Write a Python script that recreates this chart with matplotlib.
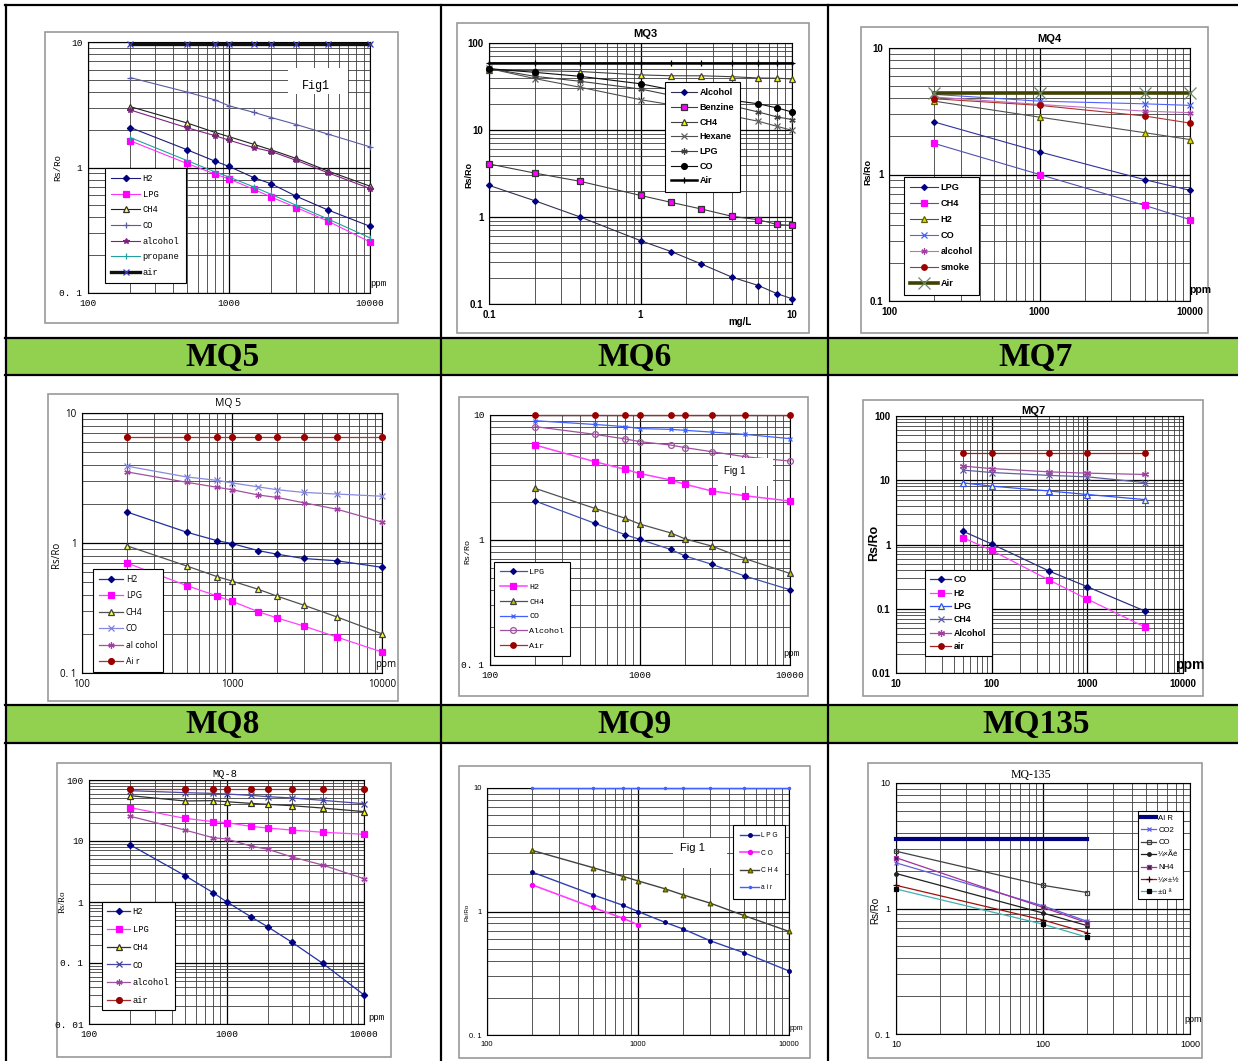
import numpy as np
import matplotlib.pyplot as plt
from matplotlib.lines import Line2D
from matplotlib.patches import Rectangle
from matplotlib.ticker import LogLocator, NullFormatter

W, H = 1238, 1061

# ---- data ----
sensor_names = ['MQ5', 'MQ6', 'MQ7', 'MQ8', 'MQ9', 'MQ135']

mq5_ppm = [200, 500, 800, 1000, 1500, 2000, 3000, 5000, 10000]
mq5_h2 = [2.08, 1.39, 1.12, 1.02, 0.83, 0.74, 0.59, 0.46, 0.34]
mq5_lpg = [1.63, 1.08, 0.885, 0.81, 0.67, 0.58, 0.48, 0.375, 0.255]
mq5_ch4 = [3.05, 2.27, 1.9, 1.76, 1.53, 1.38, 1.18, 0.94, 0.71]
mq5_co = [5.2, 4.0, 3.45, 3.1, 2.75, 2.5, 2.2, 1.85, 1.46]
mq5_alcohol = [2.87, 2.08, 1.79, 1.65, 1.44, 1.34, 1.14, 0.91, 0.68]
mq5_propane = [1.73, 1.14, 0.92, 0.84, 0.70, 0.61, 0.50, 0.39, 0.275]
mq5_air = [9.6, 9.6, 9.6, 9.6, 9.6, 9.6, 9.6, 9.6, 9.6]

mq3_mgl = [0.1, 0.2, 0.4, 1, 1.6, 2.5, 4, 6, 8, 10]
mq3_alcohol = [2.31, 1.54, 1.0, 0.535, 0.40, 0.29, 0.204, 0.163, 0.131, 0.115]
mq3_benzine = [4.07, 3.2, 2.57, 1.77, 1.47, 1.24, 1.02, 0.93, 0.82, 0.8]
mq3_ch4 = [48.5, 48, 47, 43, 42, 42, 41, 39.6, 39.4, 38.6]
mq3_hexane = [51, 39, 31, 22.3, 19.5, 17, 14.5, 12.6, 11, 9.9]
mq3_lpg = [51, 41.4, 36.3, 29.6, 25, 22, 19, 16.1, 14.1, 13.2]
mq3_co = [50.7, 46, 41.4, 34, 29, 26, 22, 20, 17.9, 16.1]
mq3_air = [59, 59, 59, 59, 59, 59, 59, 59, 59, 59]

mq4_ppm = [200, 1000, 5000, 10000]
mq4_lpg = [2.6, 1.51, 0.91, 0.75]
mq4_ch4 = [1.76, 1.0, 0.57, 0.44]
mq4_h2 = [3.8, 2.84, 2.14, 1.89]
mq4_co = [4.3, 3.8, 3.62, 3.52]
mq4_alcohol = [4.1, 3.58, 3.17, 3.08]
mq4_smoke = [3.97, 3.52, 2.9, 2.55]
mq4_air = [4.43, 4.43, 4.43, 4.43]

mq5b_ppm = [200, 500, 800, 1000, 1500, 2000, 3000, 5000, 10000]
mq5b_h2 = [1.73, 1.21, 1.04, 0.99, 0.873, 0.82, 0.76, 0.73, 0.65]
mq5b_lpg = [0.70, 0.47, 0.39, 0.356, 0.296, 0.265, 0.23, 0.189, 0.145]
mq5b_ch4 = [0.95, 0.665, 0.55, 0.51, 0.44, 0.39, 0.333, 0.27, 0.2]
mq5b_co = [3.9, 3.22, 3.03, 2.9, 2.7, 2.57, 2.45, 2.38, 2.29]
mq5b_alcohol = [3.52, 2.93, 2.68, 2.57, 2.34, 2.24, 2.04, 1.82, 1.45]
mq5b_air = [6.5, 6.5, 6.5, 6.5, 6.5, 6.5, 6.5, 6.5, 6.5]

mq9_ppm = [200, 500, 800, 1000, 1600, 2000, 3000, 5000, 10000]
mq9_lpg = [2.05, 1.36, 1.10, 1.01, 0.84, 0.745, 0.64, 0.515, 0.40]
mq9_h2 = [5.75, 4.23, 3.67, 3.4, 3.02, 2.79, 2.47, 2.26, 2.05]
mq9_ch4 = [2.59, 1.79, 1.49, 1.34, 1.14, 1.02, 0.895, 0.71, 0.54]
mq9_co = [9.0, 8.4, 8.07, 7.78, 7.68, 7.54, 7.3, 7.0, 6.47]
mq9_alcohol = [8.07, 7.0, 6.43, 6.12, 5.75, 5.48, 5.09, 4.64, 4.28]
mq9_air = [10, 10, 10, 10, 10, 10, 10, 10, 10]

mq7_ppm = [50, 100, 400, 1000, 4000]
mq7_co = [1.61, 1.02, 0.385, 0.22, 0.092]
mq7_h2 = [1.28, 0.81, 0.279, 0.141, 0.052]
mq7_lpg = [9.1, 8.1, 6.8, 6.0, 5.0]
mq7_ch4 = [14.4, 13.2, 11.9, 11.3, 9.2]
mq7_alcohol = [16.6, 15.2, 13.5, 12.9, 12.3]
mq7_air = [26.4, 26.4, 26.4, 26.4, 26.4]

mq8_ppm = [200, 500, 800, 1000, 1500, 2000, 3000, 5000, 10000]
mq8_h2 = [8.6, 2.7, 1.42, 1.01, 0.575, 0.39, 0.218, 0.099, 0.030]
mq8_lpg = [35.2, 23.5, 20.8, 20, 17.4, 16.3, 15.1, 13.9, 12.9]
mq8_ch4 = [55.3, 45.3, 45.9, 44.1, 41.4, 39.9, 37.9, 34.7, 30.3]
mq8_co = [66.8, 62, 60.4, 58.9, 56, 53.3, 50.7, 46.4, 40.9]
mq8_alcohol = [25.4, 15.1, 11.3, 10.8, 8.28, 7.3, 5.47, 4.04, 2.41]
mq8_air = [71, 71, 71, 71, 71, 71, 71, 71, 71]

mq9b_ppm = [200, 500, 800, 1000, 1500, 2000, 3000, 5000, 10000]
mq9b_lpg = [2.08, 1.37, 1.12, 1.0, 0.82, 0.72, 0.58, 0.465, 0.33]
mq9b_co_ppm = [200, 500, 800, 1000]
mq9b_co = [1.64, 1.08, 0.88, 0.78]
mq9b_ch4 = [3.12, 2.27, 1.92, 1.77, 1.53, 1.36, 1.17, 0.93, 0.69]
mq9b_air = [10, 10, 10, 10, 10, 10, 10, 10, 10]

mq135_ppm = [10, 100, 200]
mq135_air = [3.6, 3.6, 3.6]
mq135_co2 = [2.31, 1.05, 0.79]
mq135_co = [2.86, 1.53, 1.34]
mq135_s3 = [1.9, 0.92, 0.73]
mq135_nh4 = [2.54, 1.02, 0.77]
mq135_s5 = [1.53, 0.81, 0.64]
mq135_s6 = [1.43, 0.75, 0.59]

ppm_ticks = [100, 1000, 10000]
ppm_labels = ['100', '1000', '10000']
r2_ticks = [0.1, 1, 10]


def px_rect(x0, y0, x1, y1):
    return [x0 / W, 1 - y1 / H, (x1 - x0) / W, (y1 - y0) / H]


def fx(x):
    return x / W


def fy(y):
    return 1 - y / H


fig = plt.figure(figsize=(W / 100, H / 100), dpi=100)
fig.patch.set_facecolor('white')


def add_text(x, y, s, **kw):
    fig.text(fx(x), fy(y), s, **kw)


def white_box(x0, y0, x1, y1):
    fig.add_artist(Rectangle((fx(x0), fy(y1)), (x1 - x0) / W, (y1 - y0) / H,
                             transform=fig.transFigure, facecolor='white',
                             edgecolor='none', zorder=5))


def panel(frame, box, xlim, ylim, xt, xl, yt, yl, series, leg_at, spacing,
          font, tsize=7, weight='normal', lsize=6.0, hl=2.3, bpad=0.6):
    # grey frame of the pasted chart picture
    fig.add_artist(Rectangle((fx(frame[0]), fy(frame[3])),
                             (frame[2] - frame[0]) / W, (frame[3] - frame[1]) / H,
                             transform=fig.transFigure, facecolor='white',
                             edgecolor='#9a9a9a', lw=1.2, zorder=-1))
    ax = fig.add_axes(px_rect(*box))
    ax.set_xscale('log')
    ax.set_yscale('log')
    ax.set_xlim(*xlim)
    ax.set_ylim(*ylim)
    ax.set_xticks(xt, labels=xl)
    ax.set_yticks(yt, labels=yl)
    for a in (ax.xaxis, ax.yaxis):
        a.set_minor_locator(LogLocator(base=10, subs=np.arange(2, 10), numticks=30))
        a.set_minor_formatter(NullFormatter())
    ax.grid(which='major', color='black', lw=0.9)
    ax.grid(which='minor', color='#3c3c3c', lw=0.6)
    ax.set_axisbelow(True)
    ax.tick_params(which='both', length=0, labelsize=tsize, pad=4)
    for lab in ax.get_xticklabels() + ax.get_yticklabels():
        lab.set_family(font)
        lab.set_weight(weight)
    for s in ax.spines.values():
        s.set_color('black')
        s.set_linewidth(0.8)
    handles = []
    for xs, ys, name, col, lw, mk, ms, mfc, mec in series:
        ln, = ax.plot(xs, ys, color=col, lw=lw, marker=mk, ms=ms, label=name,
                      mfc=mfc, mec=mec, mew=0.9, clip_on=False, zorder=3)
        handles.append(ln)
    leg = ax.legend(handles=handles, loc='upper left',
                    bbox_to_anchor=(fx(leg_at[0]), fy(leg_at[1])),
                    bbox_transform=fig.transFigure, frameon=True, fancybox=False,
                    edgecolor='black', framealpha=1, borderaxespad=0,
                    labelspacing=spacing, handlelength=hl, handletextpad=0.3,
                    borderpad=bpad,
                    prop={'family': font, 'size': lsize, 'weight': weight})
    leg.get_frame().set_linewidth(0.8)
    leg.set_zorder(6)
    return ax


# ---- MQ5 (Fig1) ----
panel((45, 32, 398, 323), (88, 42, 370, 293), (100, 10000), (0.1, 10),
      ppm_ticks, ppm_labels, r2_ticks, ['0. 1', '1', '10'],
      [(mq5_ppm, mq5_h2, 'H2', '#1a1a7a', 0.8, 'D', 3.2, '#000080', '#000080'),
       (mq5_ppm, mq5_lpg, 'LPG', '#ff33ff', 0.8, 's', 4.0, '#ff00ff', '#ff00ff'),
       (mq5_ppm, mq5_ch4, 'CH4', '#202020', 0.8, '^', 4.0, '#ffff80', '#303030'),
       (mq5_ppm, mq5_co, 'CO', '#5a5aa0', 0.8, '+', 4.0, '#5a5aa0', '#5a5aa0'),
       (mq5_ppm, mq5_alcohol, 'alcohol', '#802080', 0.8, '*', 4.0, '#802080', '#802080'),
       (mq5_ppm, mq5_propane, 'propane', '#20a0a0', 0.8, '|', 4.0, '#20a0a0', '#20a0a0'),
       (mq5_ppm, mq5_air, 'air', '#101010', 2.4, 'x', 5.0, '#3a3ac0', '#3a3ac0')],
      (105, 168), 0.76, 'Liberation Mono', tsize=6.8, lsize=6.3, hl=3.3, bpad=0.7)
add_text(58, 168, 'Rs/Ro', family='Liberation Mono', size=6.5, rotation=90,
         ha='center', va='center')
add_text(370, 283, 'ppm', family='Liberation Mono', size=6.5, ha='left', va='center')
white_box(288, 68, 348, 94)
add_text(316, 86, 'Fig1', family='Liberation Mono', size=8.5, ha='center',
         va='center', zorder=7)

# ---- MQ6 (MQ3 chart) ----
panel((457, 23, 809, 333), (489, 43, 792, 304), (0.1, 10), (0.1, 100),
      [0.1, 1, 10], ['0.1', '1', '10'], [0.1, 1, 10, 100], ['0.1', '1', '10', '100'],
      [(mq3_mgl, mq3_alcohol, 'Alcohol', '#303050', 0.8, 'D', 3.0, '#000080', '#000080'),
       (mq3_mgl, mq3_benzine, 'Benzine', '#404040', 0.8, 's', 4.2, '#ff00ff', '#303030'),
       (mq3_mgl, mq3_ch4, 'CH4', '#404040', 0.8, '^', 4.2, '#ffff00', '#404040'),
       (mq3_mgl, mq3_hexane, 'Hexane', '#505050', 0.8, 'x', 3.8, '#505050', '#606060'),
       (mq3_mgl, mq3_lpg, 'LPG', '#404040', 0.8, (6, 2, 0), 4.5, '#404040', '#404040'),
       (mq3_mgl, mq3_co, 'CO', '#101010', 0.8, 'o', 4.2, '#000000', '#000000'),
       (mq3_mgl, mq3_air, 'Air', '#000000', 1.8, '+', 4.0, '#000000', '#000000')],
      (665, 82), 0.63, 'Liberation Sans', tsize=7, weight='bold', lsize=6.5,
      hl=2.8, bpad=0.7)
add_text(645, 34, 'MQ3', family='Liberation Sans', weight='bold', size=8,
         ha='center', va='center')
add_text(469, 175, 'Rs/Ro', family='Liberation Sans', weight='bold', size=6.5,
         rotation=90, ha='center', va='center')
add_text(740, 322, 'mg/L', family='Liberation Sans', weight='bold', size=7,
         ha='center', va='center')

# ---- MQ7 (MQ4 chart) ----
panel((861, 27, 1208, 333), (889, 48, 1190, 301), (100, 10000), (0.1, 10),
      ppm_ticks, ppm_labels, r2_ticks, ['0.1', '1', '10'],
      [(mq4_ppm, mq4_lpg, 'LPG', '#3030a0', 0.8, 'D', 3.0, '#000080', '#000080'),
       (mq4_ppm, mq4_ch4, 'CH4', '#5050b0', 0.8, 's', 4.0, '#ff00ff', '#ff00ff'),
       (mq4_ppm, mq4_h2, 'H2', '#505050', 0.8, '^', 3.8, '#e0e000', '#606000'),
       (mq4_ppm, mq4_co, 'CO', '#5060ff', 0.8, 'x', 4.0, '#4060ff', '#4060ff'),
       (mq4_ppm, mq4_alcohol, 'alcohol', '#c070c0', 0.8, (6, 2, 0), 4.5, '#a040a0', '#a040a0'),
       (mq4_ppm, mq4_smoke, 'smoke', '#b03030', 0.8, 'o', 4.0, '#a00000', '#a00000'),
       (mq4_ppm, mq4_air, 'Air', '#404000', 2.6, 'x', 8.0, '#6a8a6a', '#6a8a6a')],
      (904, 177), 0.76, 'Liberation Sans', tsize=7, weight='bold', lsize=6.6,
      hl=3.0, bpad=0.7)
add_text(1049, 39, 'MQ4', family='Liberation Sans', weight='bold', size=8,
         ha='center', va='center')
add_text(868, 172, 'Rs/Ro', family='Liberation Sans', weight='bold', size=6.5,
         rotation=90, ha='center', va='center')
add_text(1189, 290, 'ppm', family='Liberation Sans', weight='bold', size=7.5,
         ha='left', va='center')

# ---- MQ8 (MQ 5 chart) ----
panel((48, 394, 398, 701), (82, 413, 382, 673), (100, 10000), (0.1, 10),
      ppm_ticks, ppm_labels, r2_ticks, ['0. 1', '1', '10'],
      [(mq5b_ppm, mq5b_h2, 'H2', '#2030a0', 0.9, 'D', 3.2, '#000080', '#000080'),
       (mq5b_ppm, mq5b_lpg, 'LPG', '#ff40ff', 0.9, 's', 4.2, '#ff00ff', '#ff00ff'),
       (mq5b_ppm, mq5b_ch4, 'CH4', '#505050', 0.9, '^', 4.2, '#ffff40', '#404040'),
       (mq5b_ppm, mq5b_co, 'CO', '#8888e0', 0.9, 'x', 3.8, '#8080e0', '#8080e0'),
       (mq5b_ppm, mq5b_alcohol, 'al cohol', '#a050a0', 0.9, (6, 2, 0), 4.5, '#a040a0', '#a040a0'),
       (mq5b_ppm, mq5b_air, 'Ai r', '#b03030', 0.9, 'o', 4.2, '#990000', '#990000')],
      (93, 569), 0.86, 'Open Sans', tsize=7, lsize=6.2, hl=2.8, bpad=0.7)
add_text(228, 404, 'MQ 5', family='Open Sans', size=7.5, ha='center', va='center')
add_text(57, 555, 'Rs/Ro', family='Open Sans', size=7, rotation=90,
         ha='center', va='center')
add_text(375, 665, 'ppm', family='Open Sans', size=7, ha='left', va='center')

# ---- MQ9 ----
panel((459, 397, 808, 696), (490, 415, 790, 665), (100, 10000), (0.1, 10),
      ppm_ticks, ppm_labels, r2_ticks, ['0. 1', '1', '10'],
      [(mq9_ppm, mq9_lpg, 'LPG', '#4050b0', 0.9, 'D', 3.0, '#000080', '#000080'),
       (mq9_ppm, mq9_h2, 'H2', '#ff40ff', 1.1, 's', 4.0, '#ff00ff', '#ff00ff'),
       (mq9_ppm, mq9_ch4, 'CH4', '#505050', 0.9, '^', 3.8, '#c0c000', '#404040'),
       (mq9_ppm, mq9_co, 'CO', '#4060ff', 0.9, 'x', 2.8, '#4060ff', '#4060ff'),
       (mq9_ppm, mq9_alcohol, 'Alcohol', '#a050a0', 0.9, 'o', 4.2, 'none', '#a050a0'),
       (mq9_ppm, mq9_air, 'Air', '#a03030', 0.9, 'o', 4.0, '#990000', '#990000')],
      (494, 562), 0.85, 'Liberation Mono', tsize=6.8, lsize=6.0, hl=3.2, bpad=0.7)
white_box(718, 458, 773, 486)
add_text(735, 471, 'Fig 1', family='Liberation Sans', size=7, ha='center',
         va='center', zorder=7)
add_text(468, 552, 'Rs/Ro', family='Liberation Mono', size=6, rotation=90,
         ha='center', va='center')
add_text(783, 653, 'ppm', family='Liberation Mono', size=6.5, ha='left', va='center')

# ---- MQ135 (MQ7 chart) ----
panel((863, 400, 1203, 696), (896, 416, 1183, 673), (10, 10000), (0.01, 100),
      [10, 100, 1000, 10000], ['10', '100', '1000', '10000'],
      [0.01, 0.1, 1, 10, 100], ['0.01', '0.1', '1', '10', '100'],
      [(mq7_ppm, mq7_co, 'CO', '#303080', 0.9, 'D', 3.2, '#000080', '#000080'),
       (mq7_ppm, mq7_h2, 'H2', '#ff40ff', 0.9, 's', 4.2, '#ff00ff', '#ff00ff'),
       (mq7_ppm, mq7_lpg, 'LPG', '#3050ff', 0.9, '^', 4.0, '#ffffa0', '#3050ff'),
       (mq7_ppm, mq7_ch4, 'CH4', '#6060a0', 0.9, 'x', 4.0, '#6060a0', '#6060a0'),
       (mq7_ppm, mq7_alcohol, 'Alcohol', '#a050a0', 0.9, (6, 2, 0), 5.0, '#a040a0', '#a040a0'),
       (mq7_ppm, mq7_air, 'air', '#a02020', 0.9, 'o', 4.0, '#990000', '#990000')],
      (925, 570), 0.5, 'Liberation Sans', tsize=7, weight='bold', lsize=6.3, hl=2.4)
add_text(1033, 411, 'MQ7', family='Liberation Sans', weight='bold', size=8,
         ha='center', va='center')
add_text(874, 543, 'Rs/Ro', family='Liberation Sans', weight='bold', size=9,
         rotation=90, ha='center', va='center')
add_text(1175, 665, 'ppm', family='Liberation Sans', weight='bold', size=10,
         ha='left', va='center')

# ---- MQ-8 ----
panel((57, 763, 391, 1057), (89, 780, 364, 1024), (100, 10000), (0.01, 100),
      ppm_ticks, ppm_labels, [0.01, 0.1, 1, 10, 100], ['0. 01', '0. 1', '1', '10', '100'],
      [(mq8_ppm, mq8_h2, 'H2', '#2030a0', 0.9, 'D', 3.2, '#000080', '#000080'),
       (mq8_ppm, mq8_lpg, 'LPG', '#ff40ff', 0.9, 's', 4.2, '#ff00ff', '#ff00ff'),
       (mq8_ppm, mq8_ch4, 'CH4', '#303030', 0.9, '^', 4.0, '#ffff00', '#303030'),
       (mq8_ppm, mq8_co, 'CO', '#4848a8', 0.9, 'x', 3.8, '#4040a0', '#4040a0'),
       (mq8_ppm, mq8_alcohol, 'alcohol', '#a050a0', 0.9, (6, 2, 0), 4.5, '#a040a0', '#a040a0'),
       (mq8_ppm, mq8_air, 'air', '#a03030', 0.9, 'o', 4.2, '#990000', '#990000')],
      (102, 902), 1.0, 'Liberation Mono', tsize=6.8, lsize=6.3, hl=2.6)
add_text(225, 774, 'MQ-8', family='Liberation Mono', size=7.5, ha='center', va='center')
add_text(63, 902, 'Rs/Ro', family='Liberation Serif', size=6.5, rotation=90,
         ha='center', va='center')
add_text(368, 1018, 'ppm', family='Liberation Mono', size=6.5, ha='left', va='center')

# ---- lower middle chart ----
panel((459, 766, 810, 1058), (487, 788, 789, 1035), (100, 10000), (0.1, 10),
      ppm_ticks, ppm_labels, r2_ticks, ['0. 1', '1', '10'],
      [(mq9b_ppm, mq9b_lpg, 'L P G', '#3040b0', 1.0, 'o', 2.6, '#000080', '#000080'),
       (mq9b_co_ppm, mq9b_co, 'C O', '#ff40ff', 1.2, 'o', 3.0, '#ff00ff', '#ff00ff'),
       (mq9b_ppm, mq9b_ch4, 'C H 4', '#404040', 1.0, '^', 3.4, '#a0a000', '#505000'),
       (mq9b_ppm, mq9b_air, 'a i r', '#4060ff', 1.0, 'o', 1.6, '#4060ff', '#4060ff')],
      (733, 825), 1.55, 'Liberation Sans', tsize=5.5, lsize=4.8, hl=2.8, bpad=1.1)
white_box(673, 838, 727, 868)
add_text(692, 848, 'Fig 1', family='Liberation Sans', size=8, ha='center',
         va='center', zorder=7)
add_text(467, 912, 'Rs/Ro', family='Liberation Sans', size=4.5, rotation=90,
         ha='center', va='center')
add_text(790, 1029, 'ppm', family='Liberation Sans', size=5, ha='left', va='center')

# ---- MQ-135 ----
panel((868, 763, 1202, 1058), (896, 783, 1190, 1034), (10, 1000), (0.1, 10),
      [10, 100, 1000], ['10', '100', '1000'], r2_ticks, ['0. 1', '1', '10'],
      [(mq135_ppm, mq135_air, 'AI R', '#000080', 3.0, None, 0, 'none', 'none'),
       (mq135_ppm, mq135_co2, 'CO2', '#6060e0', 0.9, 'x', 3.2, '#6060e0', '#6060e0'),
       (mq135_ppm, mq135_co, 'CO', '#404040', 0.9, 's', 3.2, 'none', '#404040'),
       (mq135_ppm, mq135_s3, '¼×Ãé', '#202020', 0.9, 'o', 2.6, '#202020', '#202020'),
       (mq135_ppm, mq135_nh4, 'NH4', '#a030a0', 0.9, 's', 2.8, '#402040', '#a030a0'),
       (mq135_ppm, mq135_s5, '¼×±½', '#a01010', 0.9, '+', 4.0, '#a01010', '#300000'),
       (mq135_ppm, mq135_s6, '±û ª', '#40b0b0', 0.9, 's', 2.6, '#000000', '#000000')],
      (1138, 811), 0.64, 'Liberation Sans', tsize=6.5, lsize=5.6, hl=1.9, bpad=0.4)
add_text(1031, 775, 'MQ-135', family='Liberation Serif', size=8.5, ha='center',
         va='center')
add_text(875, 910, 'Rs/Ro', family='Liberation Sans', size=7, rotation=90,
         ha='center', va='center')
add_text(1184, 1019, 'ppm', family='Liberation Sans', size=6.5, ha='left', va='center')

# ---- table: green label bars and borders ----
green = '#92d050'
for top, bottom in [(338, 375), (705, 743)]:
    fig.add_artist(Rectangle((fx(5), fy(bottom)), (W - 5) / W, (bottom - top) / H,
                             transform=fig.transFigure, facecolor=green,
                             edgecolor='none', zorder=8))
centers = [223, 634, 1036]
for i, name in enumerate(sensor_names):
    row_y = 357 if i < 3 else 724
    add_text(centers[i % 3], row_y, name, family='Liberation Serif', weight='bold',
             size=24, ha='center', va='center', zorder=9)

for y in [5, 338, 375, 705, 743]:
    fig.add_artist(Line2D([fx(5), 1], [fy(y), fy(y)], transform=fig.transFigure,
                          color='black', lw=1.6, zorder=10))
for x in [6, 441, 828]:
    fig.add_artist(Line2D([fx(x), fx(x)], [fy(5), 0], transform=fig.transFigure,
                          color='black', lw=1.6, zorder=10))

fig.savefig('out.png', dpi=100)
